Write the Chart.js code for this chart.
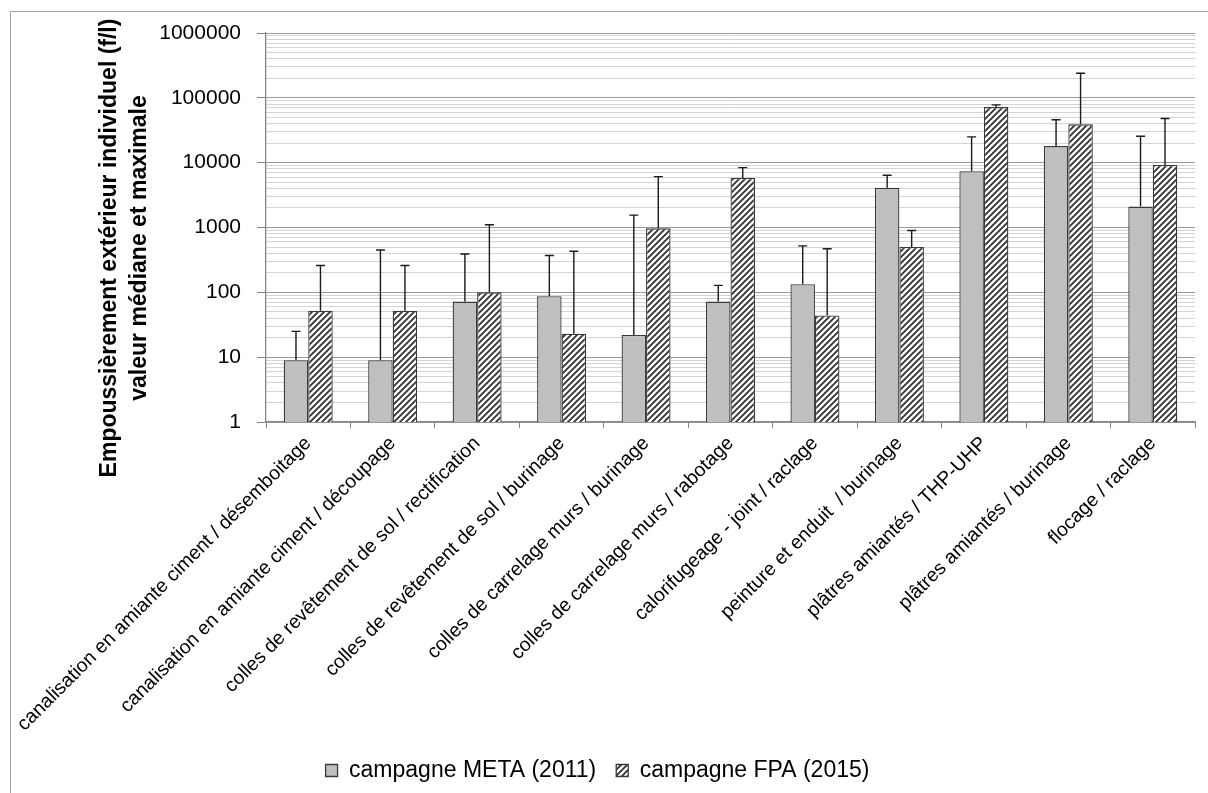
<!DOCTYPE html>
<html>
<head>
<meta charset="utf-8">
<script src="https://cdn.jsdelivr.net/npm/chart.js@4/dist/chart.umd.min.js"></script>
<style>
  body { margin: 0; background: #fff; }
  #wrap { width: 1208px; height: 793px; }
</style>
</head>
<body>
<div id="wrap"><canvas id="chrt" width="1208" height="793"></canvas></div>
<script>
const categories = [
  'canalisation en amiante ciment / désemboitage',
  'canalisation en amiante ciment / découpage',
  'colles de revêtement de sol / rectification',
  'colles de revêtement de sol / burinage',
  'colles de carrelage murs / burinage',
  'colles de carrelage murs / rabotage',
  'calorifugeage - joint / raclage',
  'peinture et enduit  / burinage',
  'plâtres amiantés / THP-UHP',
  'plâtres amiantés / burinage',
  'flocage / raclage'
];
const metaMedian = [9, 9, 72, 87, 22, 72, 133, 4100, 7400, 18000, 2100];
const metaMax    = [25, 450, 390, 370, 1550, 128, 520, 6400, 25000, 46000, 25500];
const fpaMedian  = [52, 52, 100, 23, 970, 5800, 44, 500, 72000, 39000, 9200];
const fpaMax     = [260, 260, 1100, 430, 6100, 8400, 470, 900, 78000, 240000, 48000];
const majorTicks = [1, 10, 100, 1000, 10000, 100000, 1000000];

const ctx = document.getElementById('chrt').getContext('2d');

// diagonal hatch for the 2015 series
function hatch() {
  const c = document.createElement('canvas');
  c.width = 6; c.height = 6;
  const g = c.getContext('2d');
  g.fillStyle = '#ffffff';
  g.fillRect(0, 0, 6, 6);
  g.strokeStyle = '#303030';
  g.lineWidth = 1.8;
  g.beginPath();
  g.moveTo(0, 6); g.lineTo(6, 0);
  g.moveTo(-1, 1); g.lineTo(1, -1);
  g.moveTo(5, 7); g.lineTo(7, 5);
  g.stroke();
  return ctx.createPattern(c, 'repeat');
}

const frame = {
  id: 'frame',
  beforeDraw(chart) {
    const c = chart.ctx;
    c.save();
    c.fillStyle = '#fff';
    c.fillRect(0, 0, chart.width, chart.height);
    c.strokeStyle = '#a0a0a0';
    c.lineWidth = 1;
    c.strokeRect(10.5, 11.5, 1400, 1000);
    c.restore();
  }
};

const yTitle = {
  id: 'yTitle',
  afterDraw(chart) {
    const c = chart.ctx;
    c.save();
    c.fillStyle = '#000';
    c.font = 'bold 23px Arial, "Liberation Sans"';
    c.textAlign = 'center';
    c.textBaseline = 'middle';
    c.translate(0, 248);
    c.rotate(-Math.PI / 2);
    c.fillText('Empoussièrement extérieur individuel (f/l)', 0, 110);
    c.fillText('valeur médiane et maximale', 0, 140);
    c.restore();
  }
};

const errorBars = {
  id: 'errorBars',
  afterDatasetsDraw(chart) {
    const c = chart.ctx;
    const y = chart.scales.y;
    c.save();
    c.strokeStyle = '#1a1a1a';
    c.lineWidth = 1.4;
    chart.data.datasets.forEach((ds, i) => {
      chart.getDatasetMeta(i).data.forEach((bar, j) => {
        const top = y.getPixelForValue(ds.maxValues[j]);
        c.beginPath();
        c.moveTo(bar.x, bar.y);
        c.lineTo(bar.x, top);
        c.moveTo(bar.x - 4.5, top);
        c.lineTo(bar.x + 4.5, top);
        c.stroke();
      });
    });
    c.restore();
  }
};

new Chart(ctx, {
  type: 'bar',
  data: {
    labels: categories,
    datasets: [{
      label: 'campagne META (2011)',
      data: metaMedian,
      maxValues: metaMax,
      backgroundColor: '#bfbfbf',
      borderColor: '#3a3a3a',
      borderWidth: 1.3,
      categoryPercentage: 0.58,
      barPercentage: 1.0
    }, {
      label: 'campagne FPA (2015)',
      data: fpaMedian,
      maxValues: fpaMax,
      backgroundColor: hatch(),
      borderColor: '#3a3a3a',
      borderWidth: 1.3,
      categoryPercentage: 0.58,
      barPercentage: 1.0
    }]
  },
  plugins: [frame, yTitle, errorBars],
  options: {
    responsive: false,
    animation: false,
    layout: { padding: { left: 0, right: 13, top: 33, bottom: 1 } },
    plugins: {
      tooltip: { enabled: false },
      legend: {
        position: 'bottom',
        labels: {
          color: '#000',
          font: { family: 'Arial, "Liberation Sans"', size: 23 },
          boxWidth: 12,
          boxHeight: 12,
          padding: 20
        }
      }
    },
    scales: {
      y: {
        type: 'logarithmic',
        min: 1,
        max: 1000000,
        afterFit(scale) { scale.width = 266; },
        afterBuildTicks(scale) {
          const t = [];
          majorTicks.forEach((m, k) => {
            t.push({ value: m });
            if (k < majorTicks.length - 1) {
              for (let s = 2; s <= 9; s++) t.push({ value: m * s });
            }
          });
          scale.ticks = t;
        },
        ticks: {
          autoSkip: false,
          padding: 16,
          color: '#000',
          font: { family: 'Arial, "Liberation Sans"', size: 21 },
          callback: (v) => majorTicks.includes(v) ? String(v) : ''
        },
        grid: {
          color: (c) => majorTicks.includes(c.tick.value) ? '#999999' : '#d4d4d4',
          tickColor: (c) => majorTicks.includes(c.tick.value) ? '#868686' : 'rgba(0,0,0,0)',
          tickLength: 9,
          lineWidth: 1
        },
        border: { color: '#868686', width: 1.3 }
      },
      x: {
        afterFit(scale) { scale.height = 317; },
        ticks: {
          autoSkip: false,
          minRotation: 45,
          maxRotation: 45,
          padding: 4,
          color: '#000',
          font: { family: 'Arial, "Liberation Sans"', size: 19.5 }
        },
        grid: {
          offset: true,
          drawOnChartArea: false,
          tickLength: 6,
          tickColor: '#868686'
        },
        border: { color: '#868686', width: 1.3 }
      }
    }
  }
});
</script>
</body>
</html>
